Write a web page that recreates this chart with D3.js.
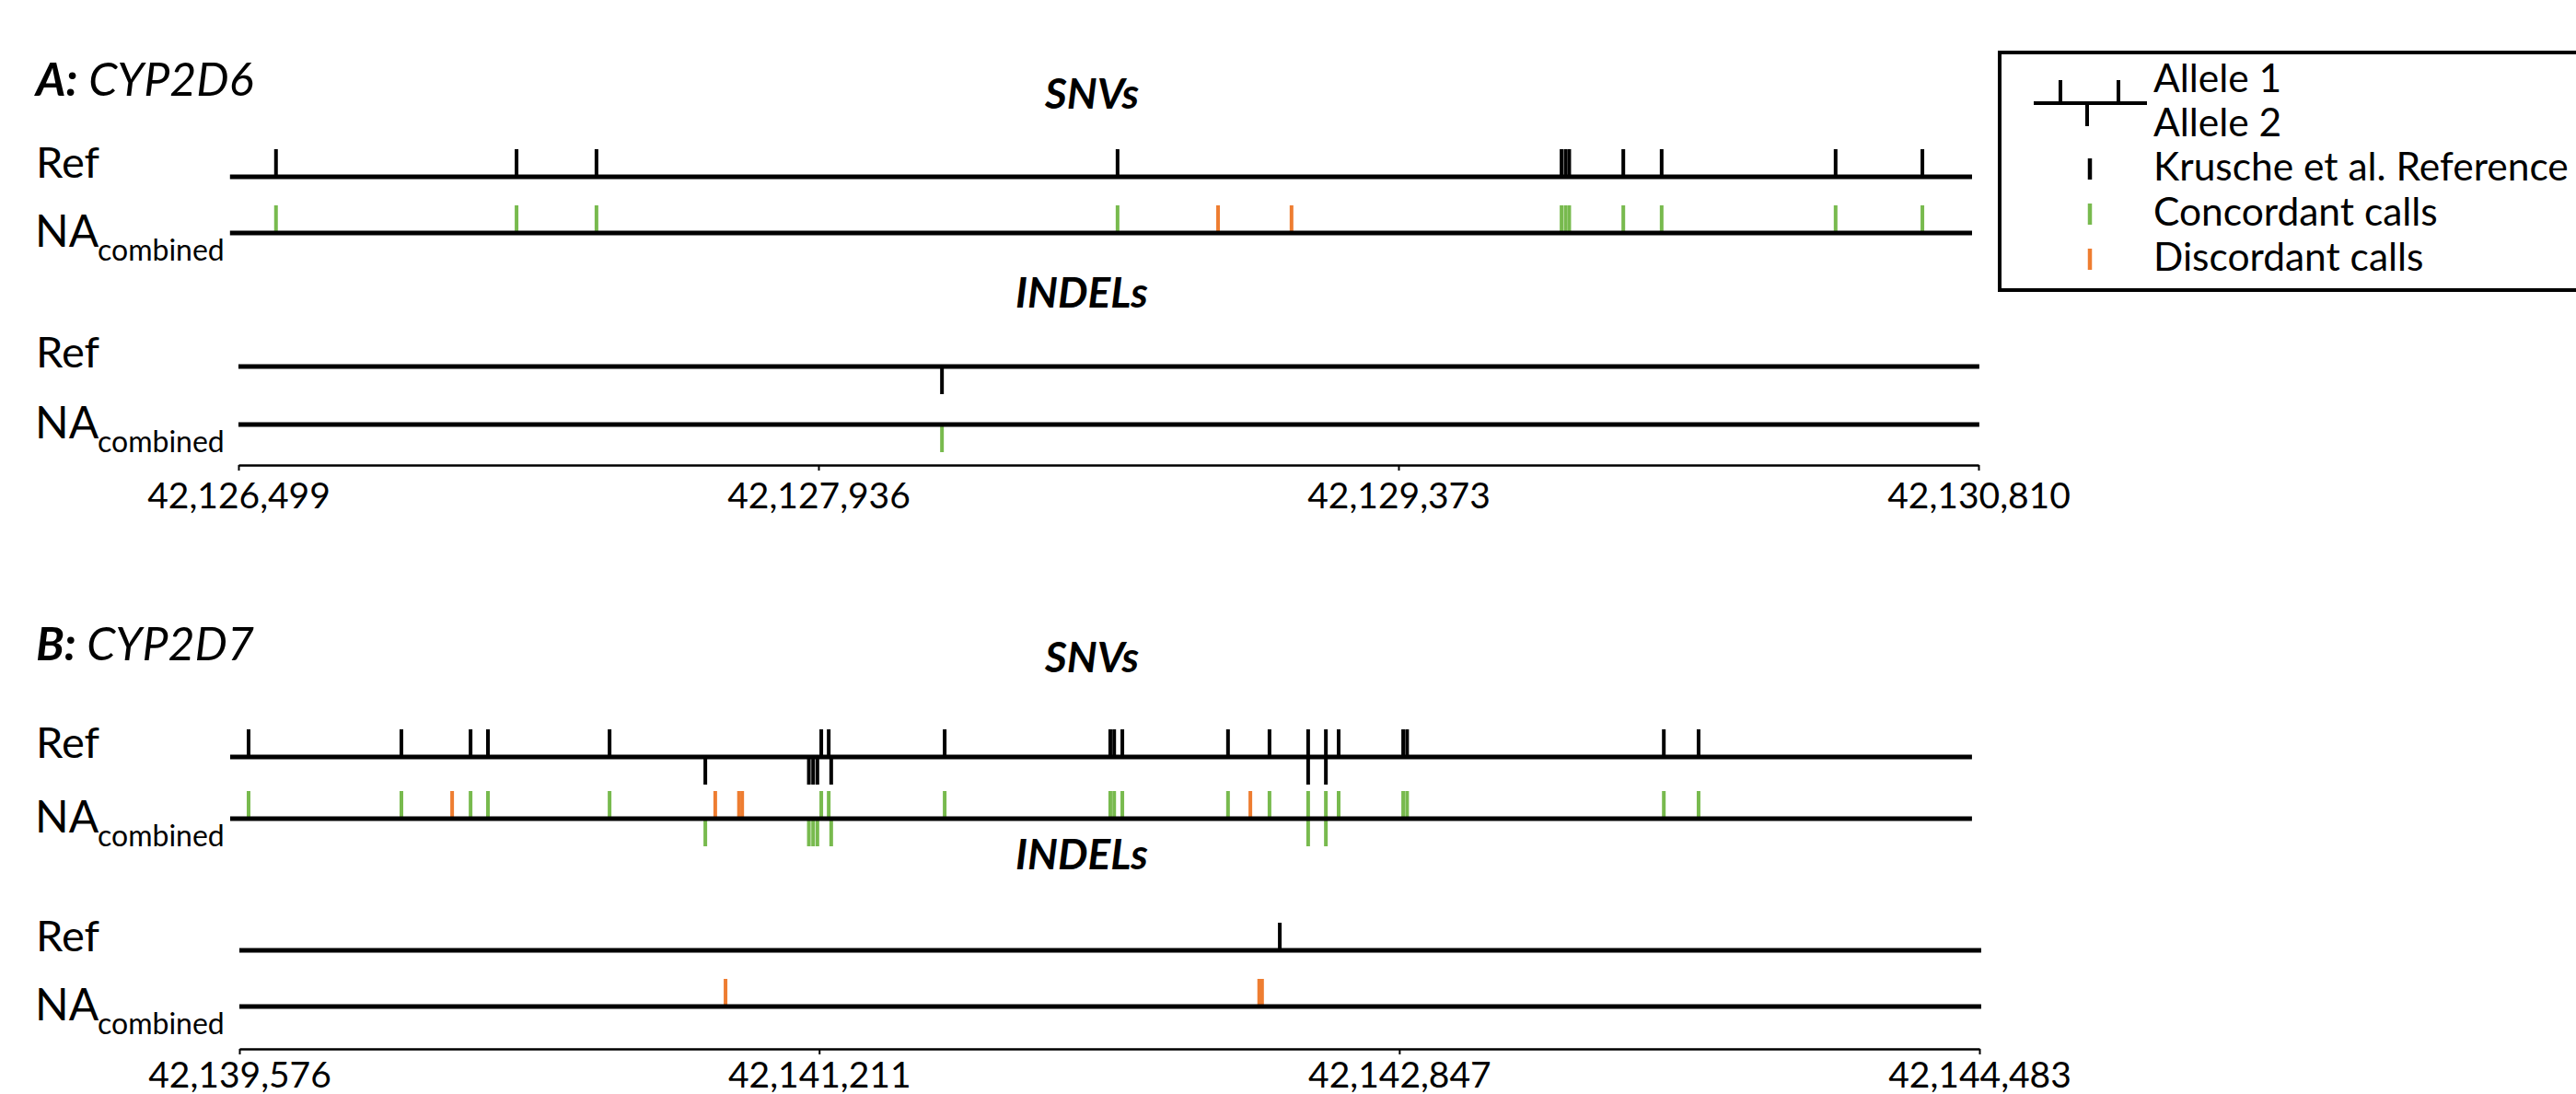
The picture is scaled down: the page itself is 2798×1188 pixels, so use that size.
<!DOCTYPE html>
<html><head><meta charset="utf-8">
<script src="https://cdn.jsdelivr.net/npm/d3@7"></script>
<style>
body{margin:0;background:#fff}
svg{display:block}
text{font-family:Lato,'Open Sans',sans-serif;fill:#000}
</style>
</head><body>
<svg id="chart" width="2798" height="1188"></svg>
<script>
// ---------- Panel A: CYP2D6 ----------
const aTickValues = [42126499, 42127936, 42129373, 42130810];
const aSnvRefAllele1 = [42126592, 42127188, 42127386, 42128677, 42129777, 42129787, 42129796, 42129930, 42130025, 42130456, 42130671];
const aSnvRefAllele2 = [];
const aSnvNaConcordant1 = [42126592, 42127188, 42127386, 42128677, 42129777, 42129787, 42129796, 42129930, 42130025, 42130456, 42130671];
const aSnvNaDiscordant1 = [42128926, 42129108];
const aSnvNaConcordant2 = [];
const aSnvNaDiscordant2 = [];
const aIndelRefAllele1 = [];
const aIndelRefAllele2 = [42128242];
const aIndelNaConcordant1 = [];
const aIndelNaDiscordant1 = [];
const aIndelNaConcordant2 = [42128242];
const aIndelNaDiscordant2 = [];
const aSnvExtent = [42126478, 42130794];
const aIndelExtent = [42126499, 42130812];

// ---------- Panel B: CYP2D7 ----------
const bTickValues = [42139576, 42141211, 42142847, 42144483];
const bSnvRefAllele1 = [42139602, 42140033, 42140228, 42140277, 42140620, 42141217, 42141238, 42141565, 42142032, 42142043, 42142066, 42142364, 42142481, 42142590, 42142640, 42142676, 42142858, 42142869, 42143593, 42143691];
const bSnvRefAllele2 = [42140890, 42141182, 42141194, 42141206, 42141245, 42142590, 42142640];
const bSnvNaConcordant1 = [42139602, 42140033, 42140228, 42140277, 42140620, 42141217, 42141238, 42141565, 42142032, 42142043, 42142066, 42142364, 42142481, 42142590, 42142640, 42142676, 42142858, 42142869, 42143593, 42143691];
const bSnvNaDiscordant1 = [42140176, 42140918, 42140985, 42140994, 42142427];
const bSnvNaConcordant2 = [42140890, 42141182, 42141194, 42141206, 42141245, 42142590, 42142640];
const bSnvNaDiscordant2 = [];
const bIndelRefAllele1 = [42142510];
const bIndelRefAllele2 = [];
const bIndelNaConcordant1 = [];
const bIndelNaDiscordant1 = [42140947, 42142452, 42142460];
const bIndelNaConcordant2 = [];
const bIndelNaDiscordant2 = [];
const bSnvExtent = [42139550, 42144462];
const bIndelExtent = [42139576, 42144488];

// ---------- Legend ----------
const legendLabels = ["Allele 1", "Allele 2", "Krusche et al. Reference", "Concordant calls", "Discordant calls"];

const BLACK = "#000", GREEN = "#78BA4E", ORANGE = "#EE7D31";
const svg = d3.select("#chart");
const fmt = d3.format(",");
const TICK_LEN = 30;

function drawTicks(g, x, y, positions, dir, color) {
  g.selectAll(null).data(positions).enter().append("line")
    .attr("x1", d => x(d)).attr("x2", d => x(d))
    .attr("y1", y).attr("y2", y + dir * TICK_LEN)
    .attr("stroke", color).attr("stroke-width", 4);
}
function drawLine(g, x, y, extent) {
  g.append("line").attr("x1", x(extent[0])).attr("x2", x(extent[1]))
    .attr("y1", y).attr("y2", y).attr("stroke", BLACK).attr("stroke-width", 5);
}
function drawLabels(g, refY, naY) {
  g.append("text").attr("x", 39).attr("y", refY + 1).attr("font-size", 47).text("Ref");
  g.append("text").attr("x", 38).attr("y", naY + 15).attr("font-size", 48).text("NA");
  g.append("text").attr("x", 106).attr("y", naY + 30).attr("font-size", 32).text("combined");
}
function drawSection(x, cfg) {
  const g = svg.append("g");
  drawTicks(g, x, cfg.refY, cfg.ref1, -1, BLACK);
  drawTicks(g, x, cfg.refY, cfg.ref2, 1, BLACK);
  drawTicks(g, x, cfg.naY, cfg.conc1, -1, GREEN);
  drawTicks(g, x, cfg.naY, cfg.disc1, -1, ORANGE);
  drawTicks(g, x, cfg.naY, cfg.conc2, 1, GREEN);
  drawTicks(g, x, cfg.naY, cfg.disc2, 1, ORANGE);
  drawLine(g, x, cfg.refY, cfg.extent);
  drawLine(g, x, cfg.naY, cfg.extent);
  drawLabels(g, cfg.refY, cfg.naY);
  g.append("text").attr("x", cfg.titleX).attr("y", cfg.titleY).attr("text-anchor", "middle")
    .attr("font-size", 46).attr("font-weight", "bold").attr("font-style", "italic").text(cfg.title);
}
function drawPanel(p) {
  const x = d3.scaleLinear().domain([p.ticks[0], p.ticks[p.ticks.length - 1]]).range(p.range);
  const t = svg.append("text").attr("x", 39).attr("y", p.titleY).attr("font-size", 50);
  t.append("tspan").attr("font-weight", "bold").attr("font-style", "italic").text(p.letter);
  t.append("tspan").attr("font-style", "italic").text(" " + p.gene);
  drawSection(x, p.snv);
  drawSection(x, p.indel);
  const ax = svg.append("g").attr("transform", `translate(0,${p.axisY})`)
    .call(d3.axisBottom(x).tickValues(p.ticks).tickFormat(fmt).tickSize(6).tickSizeOuter(0));
  ax.select(".domain").attr("stroke", BLACK).attr("stroke-width", 2.5);
  ax.selectAll(".tick line").attr("stroke", BLACK).attr("stroke-width", 2);
  ax.selectAll(".tick text").attr("y", p.labelOffset).attr("dy", null)
    .attr("font-size", 39).attr("font-family", "Lato,'Open Sans',sans-serif").attr("fill", BLACK);
}

drawPanel({
  letter: "A:", gene: "CYP2D6", titleY: 104, ticks: aTickValues, range: [259, 2149], axisY: 505, labelOffset: 47,
  snv: { title: "SNVs", titleX: 1186, titleY: 118, refY: 192, naY: 253, extent: aSnvExtent,
    ref1: aSnvRefAllele1, ref2: aSnvRefAllele2, conc1: aSnvNaConcordant1, disc1: aSnvNaDiscordant1,
    conc2: aSnvNaConcordant2, disc2: aSnvNaDiscordant2 },
  indel: { title: "INDELs", titleX: 1175, titleY: 334, refY: 398, naY: 461, extent: aIndelExtent,
    ref1: aIndelRefAllele1, ref2: aIndelRefAllele2, conc1: aIndelNaConcordant1, disc1: aIndelNaDiscordant1,
    conc2: aIndelNaConcordant2, disc2: aIndelNaDiscordant2 }
});
drawPanel({
  letter: "B:", gene: "CYP2D7", titleY: 717, ticks: bTickValues, range: [260, 2150], axisY: 1139, labelOffset: 42,
  snv: { title: "SNVs", titleX: 1186, titleY: 730, refY: 822, naY: 889, extent: bSnvExtent,
    ref1: bSnvRefAllele1, ref2: bSnvRefAllele2, conc1: bSnvNaConcordant1, disc1: bSnvNaDiscordant1,
    conc2: bSnvNaConcordant2, disc2: bSnvNaDiscordant2 },
  indel: { title: "INDELs", titleX: 1175, titleY: 944, refY: 1032, naY: 1093, extent: bIndelExtent,
    ref1: bIndelRefAllele1, ref2: bIndelRefAllele2, conc1: bIndelNaConcordant1, disc1: bIndelNaDiscordant1,
    conc2: bIndelNaConcordant2, disc2: bIndelNaDiscordant2 }
});

// Legend
const lg = svg.append("g");
lg.append("rect").attr("x", 2172).attr("y", 57).attr("width", 700).attr("height", 258)
  .attr("fill", "none").attr("stroke", BLACK).attr("stroke-width", 4);
lg.append("line").attr("x1", 2209).attr("x2", 2332).attr("y1", 112).attr("y2", 112)
  .attr("stroke", BLACK).attr("stroke-width", 4);
[[2238, -1], [2301, -1], [2267, 1]].forEach(([lx, dir]) => {
  lg.append("line").attr("x1", lx).attr("x2", lx).attr("y1", 112).attr("y2", 112 + dir * 25)
    .attr("stroke", BLACK).attr("stroke-width", 4);
});
const legendBaselines = [100, 148, 196, 245, 294];
const markerColors = [null, null, BLACK, GREEN, ORANGE];
legendLabels.forEach((lab, i) => {
  lg.append("text").attr("x", 2339).attr("y", legendBaselines[i]).attr("font-size", 42.5).text(lab);
  if (markerColors[i]) {
    lg.append("line").attr("x1", 2270).attr("x2", 2270)
      .attr("y1", legendBaselines[i] - 24).attr("y2", legendBaselines[i] - 1)
      .attr("stroke", markerColors[i]).attr("stroke-width", 4.5);
  }
});
</script>
</body></html>
